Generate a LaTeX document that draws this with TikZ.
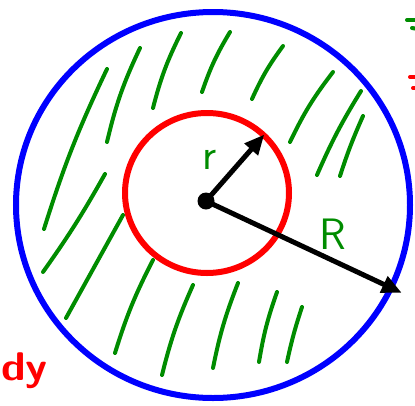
\documentclass[tikz,border=0pt]{standalone}
\usetikzlibrary{arrows.meta}
\definecolor{hgreen}{RGB}{0,140,0}
\definecolor{hblue}{RGB}{0,0,255}
\definecolor{hred}{RGB}{255,0,0}
\tikzset{
  hatch/.style={hgreen, line width=4pt, line cap=round},
  radius arrow/.style={black, line width=5pt, -{Triangle[length=20pt,width=17pt]}, shorten >=-2pt},
  edgemark/.style={line width=4pt, line cap=round},
  lbl/.style={hgreen, font=\fontsize{44}{44}\selectfont\sffamily, inner sep=0pt},
}
\begin{document}
\begin{tikzpicture}[x=1pt,y=-1pt]
\useasboundingbox (0,0) rectangle (415,405);
\clip (0,0) rectangle (415,405);
% hatching
\draw[hatch] (107,69) to[bend right=4] (44,229);
\draw[hatch] (140,48) to[bend right=6] (107,142);
\draw[hatch] (181,33) to[bend right=6] (153,108);
\draw[hatch] (105,174) to[bend left=3] (43,272);
\draw[hatch] (230,32) to[bend right=6] (202,92);
\draw[hatch] (283,46) to[bend right=6] (252,99);
\draw[hatch] (333,72) to[bend right=6] (290,142);
\draw[hatch] (361,91) to[bend right=4] (317,175);
\draw[hatch] (363,116) to[bend right=3] (340,176);
\draw[hatch] (123,215) to (66,318);
\draw[hatch] (153,260) to[bend right=5] (115,353);
\draw[hatch] (193,285) to[bend right=5] (162,375);
\draw[hatch] (238,283) to[bend right=5] (213,368);
\draw[hatch] (277,292) to[bend right=5] (259,362);
\draw[hatch] (302,307) to[bend right=3] (287,362);
% circles
\draw[hblue, line width=6pt] (213,205) ellipse [x radius=197, y radius=193];
\draw[hred, line width=6pt] (207,193) ellipse [x radius=82, y radius=80];
% center and radii
\node[circle, fill=black, minimum size=17pt, inner sep=0pt] (c) at (206,201) {};
\coordinate (rt) at (263,136);
\coordinate (Rt) at (400,292);
\draw[radius arrow] (c.center) -- (rt);
\draw[radius arrow] (c.center) -- (Rt);
\node[lbl] (lr) at (210,160) {r};
\node[lbl] (lR) at (333,234) {R};
% edge marks
\draw[edgemark, hgreen] (407,20) -- (418,20);
\draw[edgemark, hgreen] (412,28) -- (418,29);
\draw[edgemark, hred] (410,77) -- (418,77);
\draw[edgemark, hred] (413,88) -- (418,88);
% red text
\node[hred, font=\fontsize{40}{40}\selectfont\sffamily\bfseries, inner sep=0pt, anchor=base west, xscale=1.1] (dy) at (1,380) {dy};
\end{tikzpicture}
\end{document}
